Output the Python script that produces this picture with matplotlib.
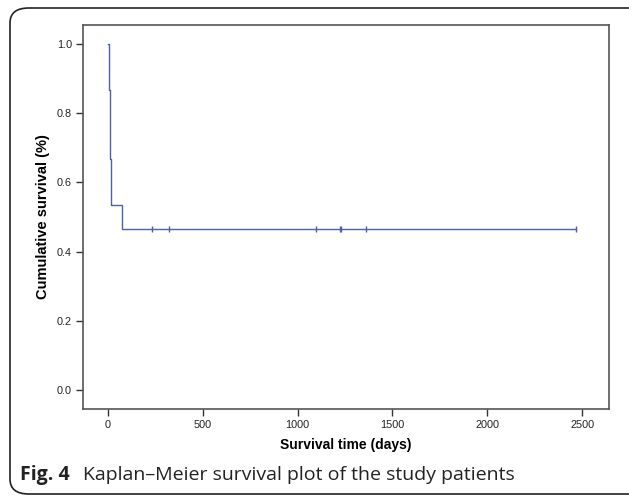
import matplotlib.pyplot as plt
from matplotlib.patches import FancyBboxPatch
import numpy as np

# Данные: время (дни) и событие (1 = смерть, 0 = цензурирование)
times = [3, 5, 8, 10, 12, 15, 18, 75, 230, 320, 1095, 1225, 1230, 1360, 2470]
events = [1, 1, 1, 1, 1, 1, 1, 1, 0, 0, 0, 0, 0, 0, 0]
x_ticks = [0, 500, 1000, 1500, 2000, 2500]
y_ticks = [0.0, 0.2, 0.4, 0.6, 0.8, 1.0]

# оценка Каплана-Мейера
t = np.array(times)
e = np.array(events)
order = np.argsort(t)
t, e = t[order], e[order]
n = len(t)
surv = 1.0
step_x, step_y = [0], [1.0]
cens_x, cens_y = [], []
for i in range(n):
    at_risk = n - i
    if e[i] == 1:
        step_x.append(t[i]); step_y.append(surv)
        surv = surv * (at_risk - 1) / at_risk
        step_x.append(t[i]); step_y.append(surv)
    else:
        cens_x.append(t[i]); cens_y.append(surv)
step_x.append(t[-1]); step_y.append(surv)

plt.rcParams['font.family'] = ['Liberation Sans', 'DejaVu Sans']
fig = plt.figure(figsize=(6.29, 4.97), dpi=100)
W, H = 629, 497
ax = fig.add_axes([83 / W, 1 - 409 / H, (609 - 83) / W, (409 - 25) / H])

col = '#4f5fa8'
ax.plot(step_x, step_y, color=col, lw=1.0)
ax.plot(cens_x, cens_y, ls='none', marker='|', ms=5, mew=1.0, color=col)

ax.set_xlim(-132, 2642)
ax.set_ylim(-0.055, 1.055)
ax.set_xticks(x_ticks)
ax.set_yticks(y_ticks)
ax.set_yticklabels(['%.1f' % v for v in y_ticks])
ax.tick_params(labelsize=7.8, length=5, width=1, color='#333333', pad=3,
               labelcolor='#222222')
for s in ax.spines.values():
    s.set_color('#555555')
    s.set_linewidth(1.2)
ax.set_xlabel('Survival time (days)', fontsize=10, fontweight='bold', labelpad=6)
ax.set_ylabel('Cumulative survival (%)', fontsize=10.5, fontweight='bold', labelpad=5)

# рамка вокруг рисунка
box = FancyBboxPatch((10 / W, 1 - 494 / H), (660 - 10) / W, (494 - 8) / H,
                     boxstyle='round,pad=0,rounding_size=0.03',
                     transform=fig.transFigure, fill=False, ec='#222222', lw=1.2,
                     clip_on=False)
fig.patches.append(box)

fig.text(20 / W, 1 - 480 / H, 'Fig. 4', fontsize=14, fontweight='bold',
         family=['Open Sans', 'DejaVu Sans'], color='#222222')
fig.text(83 / W, 1 - 480 / H, 'Kaplan\u2013Meier survival plot of the study patients',
         fontsize=14, family=['Open Sans', 'DejaVu Sans'], color='#222222')

fig.savefig('out.png', dpi=100)
